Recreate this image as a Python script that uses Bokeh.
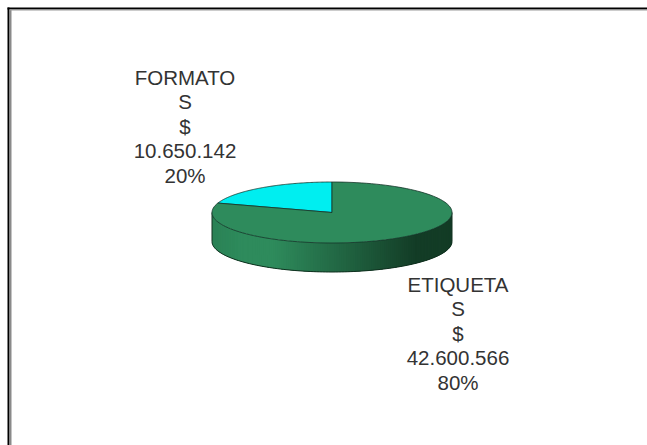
from math import pi, sin, cos
from bokeh.plotting import figure
from bokeh.models import Range1d
from bokeh.core.properties import value
from bokeh.embed import file_html
from bokeh.resources import INLINE

categories = ["FORMATOS", "ETIQUETAS"]
values = [10650142, 42600566]
percent_labels = ["20%", "80%"]
label_lines_formatos = ["FORMATO", "S", "$", "10.650.142", "20%"]
label_lines_etiquetas = ["ETIQUETA", "S", "$", "42.600.566", "80%"]
colors = ["#00EEF0", "#2E8B5C"]

CX, CY, RX, RY, DEPTH = 331.5, 212.0, 120.0, 30.5, 29.0
FONT = "Liberation Sans"
FONT_SIZE = "20.5px"
LINE_STEP = 24.6

p = figure(width=647, height=445, output_backend="svg", toolbar_location=None,
           x_range=Range1d(0, 647), y_range=Range1d(445, 0),
           min_border=0, background_fill_color="white", border_fill_color="white")
p.axis.visible = False
p.grid.visible = False
p.outline_line_color = None


def point(theta, dy=0.0):
    """theta measured from 12 o'clock, counter-clockwise."""
    return CX - RX * sin(theta), CY - RY * cos(theta) + dy


def arc(a, b, dy=0.0, n=120):
    pts = [point(a + (b - a) * i / n, dy) for i in range(n + 1)]
    return [q[0] for q in pts], [q[1] for q in pts]


def side_color(t):
    light = (46, 139, 92)
    dark = (19, 60, 38)
    if t < 0.12:
        k = 0.12 * (1 - t / 0.12)
    elif t < 0.25:
        k = 0.0
    elif t < 0.85:
        k = (t - 0.25) / 0.6
    else:
        k = 1.0
    return "#%02x%02x%02x" % tuple(round(l + (d - l) * k) for l, d in zip(light, dark))


# Side wall of the disc: overlapping strips over the front half, painted left to right
STRIPS = 160
for i in range(STRIPS):
    a = pi / 2 + pi * i / STRIPS
    b = pi / 2 + pi * min(i + 3, STRIPS) / STRIPS
    x0, y0 = point(a)
    xs, ys = arc(a, b, 0, 4)
    xb, yb = arc(b, a, DEPTH, 4)
    t = (x0 - (CX - RX)) / (2 * RX)
    c = side_color(t)
    p.patch(xs + xb, ys + yb, fill_color=c, line_color=None)

# Outline of the side wall
xs, ys = arc(pi / 2, 3 * pi / 2, DEPTH)
p.line(xs, ys, line_color="#10301f", line_width=1)
for th in (pi / 2, 3 * pi / 2):
    x0, y0 = point(th)
    p.line([x0, x0], [y0, y0 + DEPTH], line_color="#10301f", line_width=1)

# Top face: slices start at 12 o'clock and run counter-clockwise
total = sum(values)
start = 0.0
for val, col in zip(values, colors):
    end = start + 2 * pi * val / total
    xs, ys = arc(start, end)
    p.patch([CX] + xs, [CY] + ys, fill_color=col, line_color="#15352a", line_width=0.8)
    start = end

# Data labels
for lines, lx, ly in ((label_lines_formatos, 184.5, 76.5), (label_lines_etiquetas, 457.5, 283.5)):
    for i, s in enumerate(lines):
        p.text([lx], [ly + i * LINE_STEP], text=[s], text_font=value(FONT),
               text_font_size=value(FONT_SIZE), text_color="#333333",
               text_align="center", text_baseline="middle")

# Frame: black rule with a grey inner line on the top and left only
p.line([8, 8], [7, 445], line_color="black", line_width=2)
p.line([7, 647], [8, 8], line_color="black", line_width=2)
p.line([10, 10], [9, 445], line_color="#8a8a8a", line_width=2)
p.line([9, 647], [9.5, 9.5], line_color="#9a9a9a", line_width=1)

open("out.html", "w").write(file_html(p, INLINE))
